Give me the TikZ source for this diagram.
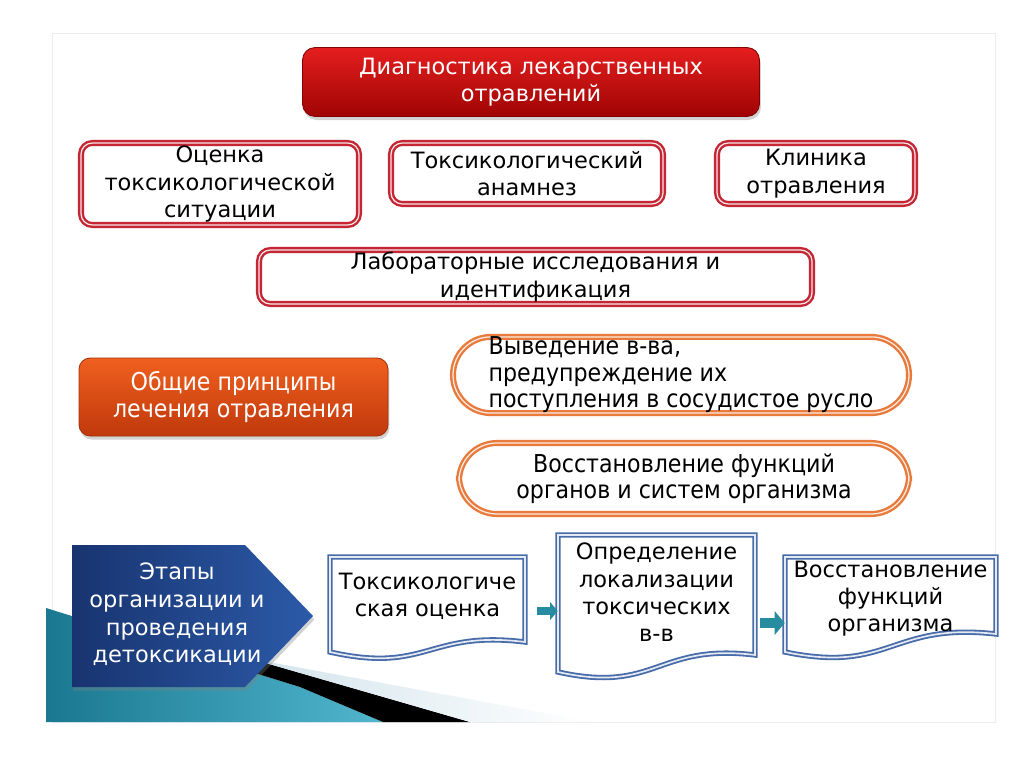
\documentclass[tikz,border=0pt]{standalone}
\usepackage{fontspec}
\setmainfont{DejaVu Sans}
\newfontfamily\narrowfont[FakeStretch=0.9]{DejaVu Sans}
\usetikzlibrary{arrows.meta,positioning,shadows,calc}
\definecolor{frameclr}{RGB}{236,236,236}
\definecolor{redline}{RGB}{196,38,52}
\definecolor{titletop}{RGB}{228,30,30}
\definecolor{titlebot}{RGB}{160,4,4}
\definecolor{orangetop}{RGB}{240,96,30}
\definecolor{orangebot}{RGB}{192,56,12}
\definecolor{orangeline}{RGB}{232,122,60}
\definecolor{navyleft}{RGB}{24,52,112}
\definecolor{navyright}{RGB}{44,90,168}
\definecolor{docline}{RGB}{72,108,170}
\definecolor{tealclr}{RGB}{40,140,160}
\definecolor{tealdark}{RGB}{26,120,144}
\definecolor{teallight}{RGB}{80,182,206}
\definecolor{paleband}{RGB}{210,228,236}
\newcommand{\pxu}{0.025cm}

\begin{document}
\begin{tikzpicture}[x=\pxu, y=-\pxu,
  boxfont/.style={font=\fontsize{16}{19.4}\selectfont},
  narrowtext/.style={font=\narrowfont\fontsize{17.5}{18.9}\selectfont},
  titlebox/.style={rounded corners=9pt, top color=titletop, bottom color=titlebot,
    draw=titlebot!80!black, line width=0.6pt, text=white, boxfont, align=center,
    drop shadow={shadow xshift=1pt, shadow yshift=-2.5pt, opacity=0.35}},
  orangebox/.style={rounded corners=8pt, top color=orangetop, bottom color=orangebot,
    draw=orangebot!85!black, line width=0.6pt, text=white, narrowtext, align=center,
    drop shadow={shadow xshift=1pt, shadow yshift=-2.5pt, opacity=0.35}},
  redbox/.style={draw=redline, double=redline!12, double distance=0.9pt, line width=1.7pt,
    fill=white, rounded corners=8pt, align=center, boxfont, inner sep=0pt},
  ovalbox/.style={draw=orangeline, double=orangeline!15, double distance=0.9pt, line width=1.7pt,
    fill=white, rounded corners=27pt, narrowtext, inner sep=0pt},
  docbox/.style={align=center, boxfont, inner sep=0pt},
  docframe/.style={draw=docline, double=white!85!docline, double distance=1.2pt,
    line width=1.3pt, fill=white},
  flowarrow/.style={draw=tealclr, line width=#1, -{Triangle[length=0pt 0.95, width=0pt 2.2]}},
]

% Page and slide frame
\path[use as bounding box, fill=white] (0,0) rectangle (1024,767);
\draw[frameclr] (52,33) rectangle (995,722);

% Bottom stripes
\shade[left color=tealdark, right color=teallight] (46,608) -- (300,687) -- (383,722) -- (46,722) -- cycle;
\fill[black] (250,658.5) -- (470,722) -- (383,722) -- (300,687) -- (250,671.5) -- cycle;
\shade[left color=paleband, right color=white] (250,658.5) -- (593,722) -- (470,722) -- cycle;

% Diagnostics
\node[titlebox, minimum width=457*\pxu, minimum height=69*\pxu] (diag) at (531,82)
  {Диагностика лекарственных\\отравлений};
\node[redbox, minimum width=278*\pxu, minimum height=82*\pxu] (situation) at (220,184)
  {Оценка\\токсикологической\\ситуации};
\node[redbox, minimum width=272*\pxu, minimum height=61*\pxu] (anamnesis) at (527,173.5)
  {Токсикологический\\анамнез};
\node[redbox, minimum width=198*\pxu, minimum height=61*\pxu] (clinic) at (816,173.5)
  {Клиника\\отравления};
\node[redbox, minimum width=553*\pxu, minimum height=54*\pxu] (lab) at (535.5,277)
  {Лабораторные исследования и\\идентификация};

% Treatment
\node[orangebox, minimum width=309*\pxu, minimum height=78*\pxu] (treat) at (233.5,397)
  {Общие принципы\\лечения отравления};
\node[ovalbox, align=left, minimum width=456*\pxu, minimum height=74*\pxu] (elim) at (681,375)
  {Выведение в-ва,\\предупреждение их\\поступления в сосудистое русло};
\node[ovalbox, align=center, minimum width=450*\pxu, minimum height=71*\pxu] (restore) at (684,478.5)
  {Восстановление функций\\органов и систем организма};

% Detoxication stages
\path[left color=navyleft, right color=navyright,
  drop shadow={shadow xshift=1pt, shadow yshift=-2.5pt, opacity=0.35}]
  (72,545) -- (245,545) -- (313,616) -- (245,687) -- (72,687) -- cycle;
\node[text=white, align=center, font=\fontsize{16}{19.7}\selectfont] (stages) at (177,614.5)
  {Этапы\\организации и\\проведения\\детоксикации};

\foreach \l/\t/\r/\b/\rb in {330/557/525/652/642, 558/535/755/672/655, 785/557/996/652/634}{
  \draw[docframe] (\l,\b) -- (\l,\t) -- (\r,\t) -- (\r,\rb)
    .. controls ({(\l+\r)/2},\rb-12) and ({(\l+\r)/2},\b+22) .. (\l,\b) -- cycle;
}
\node[docbox, minimum width=195*\pxu] (tox) at (427.5,596) {Токсикологиче\\ская оценка};
\node[docbox, minimum width=197*\pxu] (local) at (656.5,592.5) {Определение\\локализации\\токсических\\в-в};
\node[docbox, minimum width=211*\pxu] (funcs) at (890.5,598.5) {Восстановление\\функций\\организма};

\draw[flowarrow=5.7pt, shorten <=12*\pxu] ([yshift=-10.7pt]tox.east) -- ([yshift=-10.7pt]tox.east -| local.west);
\draw[flowarrow=7.5pt, shorten <=5*\pxu] ([yshift=-21.7pt]local.east) -- ([yshift=-21.7pt]local.east -| funcs.west);

\end{tikzpicture}
\end{document}
